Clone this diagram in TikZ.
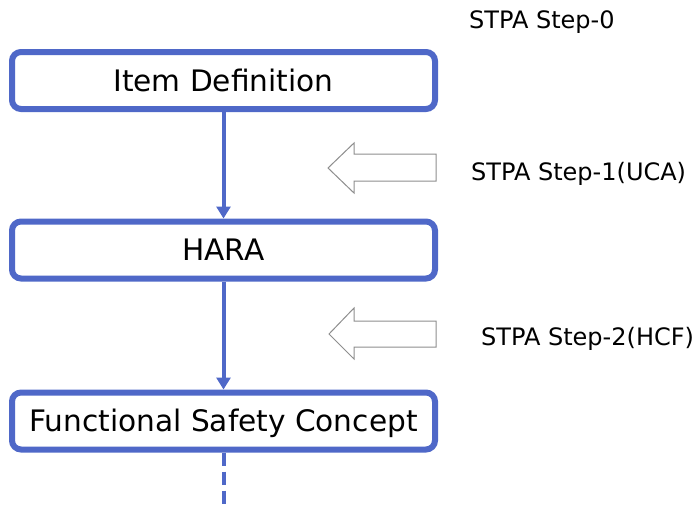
\documentclass[tikz,border=0pt]{standalone}
\usepackage{fontspec}
\setmainfont{DejaVu Sans}
\usetikzlibrary{arrows.meta}
\definecolor{flowblue}{HTML}{4F68C8}
\definecolor{hintgray}{HTML}{8E8E8E}
\tikzset{
  phase/.style={draw=flowblue, line width=6pt, rounded corners=9pt, fill=white,
    minimum width=423pt, minimum height=57pt, inner sep=0pt,
    font=\fontsize{29.6}{32}\selectfont, text height=21.8pt, text depth=0pt},
  flow/.style={draw=flowblue, line width=4pt, -{Triangle[length=12pt,width=14pt]}},
  flowdash/.style={draw=flowblue, line width=4pt, dash pattern=on 13pt off 6pt},
  hint/.style={draw=hintgray, line width=1pt, fill=white, line join=miter},
  steplabel/.style={anchor=west, inner sep=0pt, font=\fontsize{24}{27}\selectfont,
    text height=17.4pt, text depth=0pt}
}
\begin{document}
\begin{tikzpicture}[x=1pt, y=-1pt]
  \useasboundingbox (0,0) rectangle (696,504);

  % process phases
  \node[phase] (item) at (223.5,80.5) {Item Definition};
  \node[phase] (hara) at (223.5,250) {HARA};
  \node[phase] (fsc)  at (223.5,421) {Functional Safety Concept};

  % flow between phases
  \draw[flow] (item.south) -- (hara.north);
  \draw[flow] (hara.south) -- (fsc.north);
  \coordinate (cont) at (223.5,504);
  \draw[flowdash] (fsc.south) -- (cont);

  % hollow pointers towards the flow
  \draw[hint] (328,168) -- (354,143) -- (354,154) -- (436,154) -- (436,181)
              -- (354,181) -- (354,193) -- cycle;
  \draw[hint] (329,334) -- (354,308) -- (354,321) -- (436,321) -- (436,347)
              -- (354,347) -- (354,359) -- cycle;

  % STPA step labels
  \node[steplabel] (s0) at (469,20)  {STPA Step-0};
  \node[steplabel] (s1) at (471,172) {STPA Step-1(UCA)};
  \node[steplabel] (s2) at (481,337) {STPA Step-2(HCF)};
\end{tikzpicture}
\end{document}
